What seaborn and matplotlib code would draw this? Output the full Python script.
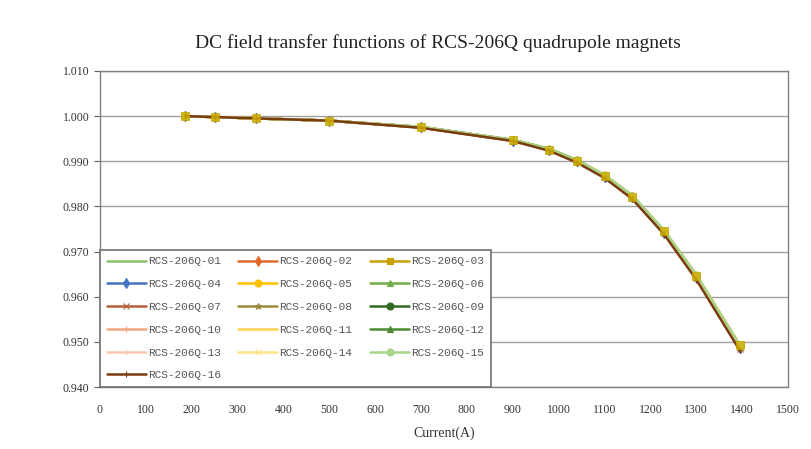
import matplotlib
matplotlib.use("Agg")
import matplotlib.pyplot as plt
import seaborn as sns
import pandas as pd

current = [185, 250, 340, 500, 700, 900, 980, 1040, 1100, 1160, 1230, 1300, 1395]

s01 = [1.0000, 0.9998, 0.9995, 0.9990, 0.9976, 0.9948, 0.9928, 0.9903, 0.9870, 0.9825, 0.9747, 0.9649, 0.9492]
s02 = [1.0000, 0.9998, 0.9995, 0.9990, 0.9975, 0.9946, 0.9925, 0.9900, 0.9866, 0.9820, 0.9742, 0.9643, 0.9486]
s03 = [1.0000, 0.9998, 0.9995, 0.9990, 0.9976, 0.9947, 0.9926, 0.9901, 0.9868, 0.9822, 0.9745, 0.9647, 0.9492]
s04 = [1.0000, 0.9998, 0.9995, 0.9990, 0.9975, 0.9946, 0.9925, 0.9900, 0.9866, 0.9820, 0.9742, 0.9643, 0.9487]
s05 = [1.0000, 0.9998, 0.9995, 0.9990, 0.9976, 0.9947, 0.9927, 0.9902, 0.9869, 0.9823, 0.9746, 0.9648, 0.9493]
s06 = [1.0000, 0.9998, 0.9995, 0.9990, 0.9975, 0.9946, 0.9926, 0.9900, 0.9866, 0.9821, 0.9743, 0.9644, 0.9488]
s07 = [1.0000, 0.9998, 0.9995, 0.9990, 0.9975, 0.9945, 0.9925, 0.9899, 0.9865, 0.9819, 0.9741, 0.9642, 0.9485]
s08 = [1.0000, 0.9998, 0.9995, 0.9990, 0.9975, 0.9946, 0.9925, 0.9900, 0.9866, 0.9820, 0.9742, 0.9643, 0.9487]
s09 = [1.0000, 0.9998, 0.9995, 0.9990, 0.9976, 0.9947, 0.9926, 0.9901, 0.9867, 0.9822, 0.9744, 0.9645, 0.9490]
s10 = [1.0000, 0.9998, 0.9995, 0.9990, 0.9975, 0.9946, 0.9925, 0.9899, 0.9865, 0.9819, 0.9741, 0.9642, 0.9485]
s11 = [1.0000, 0.9998, 0.9995, 0.9990, 0.9975, 0.9946, 0.9926, 0.9900, 0.9867, 0.9821, 0.9743, 0.9644, 0.9489]
s12 = [1.0000, 0.9998, 0.9995, 0.9990, 0.9976, 0.9947, 0.9927, 0.9902, 0.9868, 0.9823, 0.9745, 0.9647, 0.9491]
s13 = [1.0000, 0.9998, 0.9995, 0.9990, 0.9975, 0.9946, 0.9925, 0.9899, 0.9865, 0.9819, 0.9741, 0.9642, 0.9485]
s14 = [1.0000, 0.9998, 0.9995, 0.9990, 0.9976, 0.9947, 0.9926, 0.9901, 0.9868, 0.9822, 0.9745, 0.9646, 0.9491]
s15 = [1.0000, 0.9998, 0.9995, 0.9990, 0.9976, 0.9947, 0.9927, 0.9902, 0.9869, 0.9824, 0.9746, 0.9648, 0.9492]
s16 = [1.0000, 0.9998, 0.9995, 0.9990, 0.9974, 0.9945, 0.9923, 0.9897, 0.9863, 0.9817, 0.9738, 0.9638, 0.9481]

series_values = [s01, s02, s03, s04, s05, s06, s07, s08, s09, s10, s11, s12, s13, s14, s15, s16]
series_names = ["RCS-206Q-%02d" % i for i in range(1, 17)]

colors = ["#8cc26a", "#e06a2a", "#c8a000", "#4472c4", "#ffc000", "#70ad47",
          "#b5603a", "#9a8a3a", "#2e6b1e", "#f4a582", "#ffd34d", "#4a8a30",
          "#f8c8b0", "#ffe48a", "#a8d58a", "#7a3b10"]
markers = [None, "d", "s", "d", "o", "^", "x", "*", "o", "+", None, "^",
           "+", "x", "o", "|"]

x_ticks = list(range(0, 1501, 100))
y_ticks = [0.940, 0.950, 0.960, 0.970, 0.980, 0.990, 1.000, 1.010]

sns.set_style("white")
plt.rcParams["font.family"] = ["Liberation Serif", "DejaVu Serif"]

fig = plt.figure(figsize=(8.11, 4.49), dpi=100)
ax = fig.add_axes([0.1233, 0.138, 0.8483, 0.7039])

for name, vals, c, m in zip(series_names, series_values, colors, markers):
    df = pd.DataFrame({"Current": current, "Value": vals})
    sns.lineplot(data=df, x="Current", y="Value", ax=ax, color=c, marker=m,
                 markersize=5, markeredgewidth=0.8, markeredgecolor=c,
                 linewidth=1.8, label=name, legend=True)

# yellow square markers of RCS-206Q-03 are the most visible ones in the reference
df3 = pd.DataFrame({"Current": current, "Value": s03})
sns.scatterplot(data=df3, x="Current", y="Value", ax=ax, color="#d4b000",
                marker="s", s=30, edgecolor="#c8a000", linewidth=0.6,
                alpha=0.8, legend=False, zorder=5)

ax.set_xlim(0, 1500)
ax.set_ylim(0.940, 1.010)
ax.set_xticks(x_ticks)
ax.set_yticks(y_ticks)
ax.set_yticklabels(["%.3f" % v for v in y_ticks])
ax.grid(axis="y", color="#a0a0a0", linewidth=1.0)
ax.set_axisbelow(True)
for sp in ax.spines.values():
    sp.set_color("#808080")
    sp.set_linewidth(1.0)
ax.tick_params(axis="x", direction="in", length=4, colors="#606060", labelsize=8.5,
               labelcolor="#333333", pad=12, top=False)
ax.tick_params(axis="y", direction="out", length=4, colors="#606060", labelsize=8.5,
               labelcolor="#333333", left=True)
ax.set_xlabel("Current(A)", fontsize=10, color="#333333", labelpad=8)
ax.set_ylabel("")
fig.suptitle("DC field transfer functions of RCS-206Q quadrupole magnets",
             x=0.54, y=0.925, fontsize=14, color="#222222")

handles, labels = ax.get_legend_handles_labels()
order = [0, 3, 6, 9, 12, 15, 1, 4, 7, 10, 13, 2, 5, 8, 11, 14]
leg = ax.legend([handles[i] for i in order], [labels[i] for i in order],
                loc="lower left", ncol=3, frameon=True, fancybox=False,
                framealpha=1.0, facecolor="white",
                handlelength=3.5, columnspacing=1.6, labelspacing=1.15,
                borderaxespad=0.0, handletextpad=0.2, borderpad=0.6,
                prop={"family": ["Liberation Mono", "DejaVu Sans Mono"], "size": 8})
leg.get_frame().set_edgecolor("#707070")
leg.get_frame().set_linewidth(1.2)
leg.set_zorder(10)
for t in leg.get_texts():
    t.set_color("#555555")

fig.savefig("out.png", dpi=100, facecolor="white")
